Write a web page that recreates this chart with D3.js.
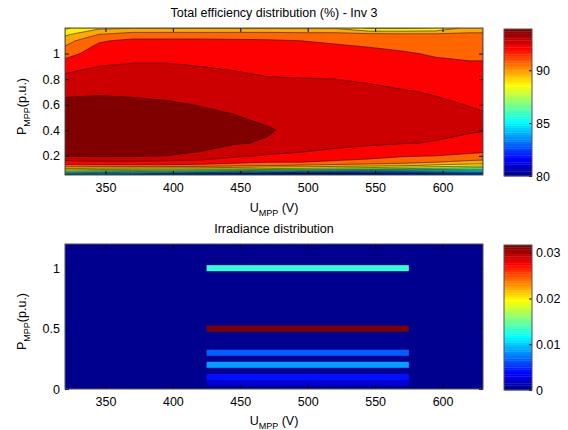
<!DOCTYPE html>
<html lang="en">
<head>
<meta charset="UTF-8">
<title>Total efficiency and irradiance distribution</title>
<script src="https://d3js.org/d3.v7.min.js"></script>
<style>
  body { margin: 0; background: #fff; }
  svg text { font-family: "Liberation Sans", Arial, Helvetica, sans-serif; fill: #000; }
</style>
</head>
<body>
<svg id="chart" width="568" height="430"></svg>
<script>
// ---- data ----
const uTicks = [350, 400, 450, 500, 550, 600];
const pTicksTop = [0.2, 0.4, 0.6, 0.8, 1];
const pTicksBottom = [0, 0.5, 1];
const effTicks = [80, 85, 90];
const irrTicks = [0, 0.01, 0.02, 0.03];

// efficiency (%) grid: one column per U, rows follow pGrid
const uGrid = [320, 345, 370, 395, 420, 445, 470, 495, 520, 545, 570, 595, 620, 630];
const pGrid = [0.05, 0.075, 0.1, 0.125, 0.15, 0.2, 0.3, 0.4, 0.5, 0.6, 0.7, 0.8, 0.9, 1.0, 1.1, 1.15, 1.2];
const effByU = [
  [82.5, 86.5, 89.0, 90.8, 91.6, 93.1, 93.4, 93.5, 93.4, 93.2, 92.85, 92.3, 91.6, 90.6, 89.6, 88.8, 87.8],
  [82.0, 86.0, 88.8, 90.8, 91.8, 93.2, 93.5, 93.6, 93.5, 93.25, 92.9, 92.45, 92.0, 91.5, 90.9, 90.0, 88.8],
  [81.5, 85.8, 88.7, 90.8, 91.8, 93.15, 93.5, 93.6, 93.5, 93.2, 92.85, 92.5, 92.1, 91.7, 91.2, 90.5, 88.9],
  [81.0, 85.5, 88.6, 90.8, 91.7, 93.0, 93.4, 93.5, 93.4, 93.1, 92.8, 92.45, 92.1, 91.7, 91.2, 90.5, 88.9],
  [80.5, 85.2, 88.5, 90.7, 91.6, 92.85, 93.3, 93.35, 93.2, 92.97, 92.7, 92.4, 92.0, 91.65, 91.2, 90.5, 88.9],
  [80.0, 84.8, 88.2, 90.4, 91.3, 92.2, 93.1, 93.25, 93.07, 92.8, 92.5, 92.2, 91.9, 91.6, 91.15, 90.5, 88.9],
  [79.5, 84.5, 88.0, 90.1, 91.0, 91.9, 92.9, 93.1, 92.8, 92.6, 92.35, 92.05, 91.8, 91.5, 91.1, 90.5, 88.9],
  [79.0, 84.0, 87.8, 89.9, 91.0, 91.8, 92.5, 92.7, 92.6, 92.4, 92.2, 92.03, 91.7, 91.35, 91.0, 90.4, 88.9],
  [79.0, 83.8, 87.5, 89.7, 90.8, 91.6, 92.3, 92.55, 92.5, 92.35, 92.15, 92.0, 91.65, 91.3, 90.9, 90.4, 88.9],
  [79.5, 83.5, 87.3, 89.5, 90.6, 91.4, 92.15, 92.4, 92.4, 92.3, 92.1, 91.95, 91.6, 91.2, 90.8, 90.3, 87.8],
  [80.0, 83.8, 87.0, 89.2, 90.4, 91.1, 92.05, 92.3, 92.3, 92.2, 92.05, 91.8, 91.4, 91.1, 90.6, 90.2, 87.8],
  [80.5, 84.0, 86.8, 88.8, 90.0, 91.0, 91.95, 92.2, 92.2, 92.1, 91.95, 91.6, 91.25, 90.9, 90.5, 90.2, 88.0],
  [81.0, 84.2, 86.5, 88.5, 89.7, 90.85, 91.7, 92.1, 92.1, 91.98, 91.7, 91.4, 91.15, 90.8, 90.5, 90.2, 89.4],
  [81.0, 84.3, 86.4, 88.4, 89.6, 90.8, 91.6, 92.05, 92.05, 91.95, 91.7, 91.4, 91.15, 90.8, 90.5, 90.2, 89.4]
];
const effLevels = [80, 81, 82, 83, 84, 85, 86, 87, 88, 89, 90, 91, 92, 93];
const effRange = [80, 93.9];

// irradiance distribution (weights per cell)
const irrP = [0.05, 0.1, 0.2, 0.3, 0.5, 1.0];
const irrValue = [0.0020, 0.0040, 0.0086, 0.0066, 0.0317, 0.0132];
const irrU = [425, 575];
const irrRange = [0, 0.0317];

// ---- layout ----
const svg = d3.select("#chart");
const plotX = [65, 483];
const topY = [28, 175];
const botY = [244, 389];
const cbX = [504, 532];
const cellHalf = 0.025;
const fs = 12.5;

// MATLAB-like jet colormap
function jet(t) {
  const c = v => Math.max(0, Math.min(1, v));
  return d3.rgb(255 * c(1.5 - Math.abs(4 * t - 3)),
                255 * c(1.5 - Math.abs(4 * t - 2)),
                255 * c(1.5 - Math.abs(4 * t - 1))).formatHex();
}
const jet64 = d3.range(64).map(i => jet((i + 1) / 64));

const x = d3.scaleLinear().domain([320, 630]).range(plotX);
const yTop = d3.scaleLinear().domain([0.05, 1.2]).range([topY[1], topY[0]]);
const yBot = d3.scaleLinear().domain([0, 1.2]).range([botY[1], botY[0]]);

const defs = svg.append("defs");
defs.append("clipPath").attr("id", "clipTop").append("rect")
  .attr("x", plotX[0]).attr("y", topY[0]).attr("width", plotX[1] - plotX[0]).attr("height", topY[1] - topY[0]);
defs.append("clipPath").attr("id", "clipBot").append("rect")
  .attr("x", plotX[0]).attr("y", botY[0]).attr("width", plotX[1] - plotX[0]).attr("height", botY[1] - botY[0]);

// ---- top: filled contours ----
const nx = uGrid.length, ny = pGrid.length;
const values = [];
for (let j = 0; j < ny; j++) for (let i = 0; i < nx; i++) values.push(effByU[i][j]);

const contours = d3.contours().size([nx, ny]).thresholds(effLevels)(values);
const uAt = d3.scaleLinear().domain(d3.range(nx)).range(uGrid).clamp(true);
const pAt = d3.scaleLinear().domain(d3.range(ny)).range(pGrid).clamp(true);
const proj = d3.geoTransform({
  point(cx, cy) { this.stream.point(x(uAt(cx - 0.5)), yTop(pAt(cy - 0.5))); }
});
const path = d3.geoPath(proj);
// position of each fill level along the jet map, as it shows in the picture
const effT = d3.scaleLinear().domain([80, 89, 90, 91, 92, 93]).range([0.06, 0.71, 0.775, 0.875, 0.925, 1]).clamp(true);
const effFill = v => jet(effT(v));

const gTop = svg.append("g").attr("clip-path", "url(#clipTop)");
gTop.append("rect")
  .attr("x", plotX[0]).attr("y", topY[0]).attr("width", plotX[1] - plotX[0]).attr("height", topY[1] - topY[0])
  .attr("fill", jet64[0]);
gTop.selectAll("path")
  .data(contours)
  .join("path")
  .attr("d", path)
  .attr("fill", d => effFill(d.value))
  .attr("stroke", "#000")
  .attr("stroke-width", 0.5);

// ---- bottom: irradiance cells ----
const irrColor = d3.scaleQuantize().domain(irrRange).range(jet64);
const gBot = svg.append("g").attr("clip-path", "url(#clipBot)");
gBot.append("rect")
  .attr("x", plotX[0]).attr("y", botY[0]).attr("width", plotX[1] - plotX[0]).attr("height", botY[1] - botY[0])
  .attr("fill", jet64[0]);
gBot.selectAll("rect.cell")
  .data(irrP.map((p, i) => ({ p, v: irrValue[i] })))
  .join("rect")
  .attr("class", "cell")
  .attr("x", x(irrU[0]))
  .attr("width", x(irrU[1]) - x(irrU[0]))
  .attr("y", d => yBot(d.p + cellHalf))
  .attr("height", d => yBot(d.p - cellHalf) - yBot(d.p + cellHalf))
  .attr("fill", d => irrColor(d.v));

// ---- axes ----
function frame(yr, yScale, yTicks) {
  const g = svg.append("g");
  g.append("g").attr("transform", `translate(0,${yr[1]})`)
    .call(d3.axisBottom(x).tickValues(uTicks).tickSizeInner(-4).tickSizeOuter(0).tickPadding(8));
  g.append("g").attr("transform", `translate(0,${yr[0]})`)
    .call(d3.axisTop(x).tickValues(uTicks).tickSizeInner(-4).tickSizeOuter(0).tickFormat(""));
  g.append("g").attr("transform", `translate(${plotX[0]},0)`)
    .call(d3.axisLeft(yScale).tickValues(yTicks).tickSizeInner(-4).tickSizeOuter(0).tickPadding(5).tickFormat(d3.format("~g")));
  g.append("g").attr("transform", `translate(${plotX[1]},0)`)
    .call(d3.axisRight(yScale).tickValues(yTicks).tickSizeInner(-4).tickSizeOuter(0).tickFormat(""));
  g.selectAll(".domain").remove();
  g.selectAll(".tick line").attr("stroke", "#000");
  g.selectAll("g").attr("font-family", null).attr("font-size", fs);
  g.append("rect")
    .attr("x", plotX[0]).attr("y", yr[0]).attr("width", plotX[1] - plotX[0]).attr("height", yr[1] - yr[0])
    .attr("fill", "none").attr("stroke", "#555").attr("stroke-width", 1);
}
frame(topY, yTop, pTicksTop);
frame(botY, yBot, pTicksBottom);

// ---- colorbars ----
function colorbar(yr, range, ticks, fmt) {
  const s = d3.scaleLinear().domain(range).range([yr[1], yr[0]]);
  const g = svg.append("g");
  const step = (range[1] - range[0]) / 64;
  g.selectAll("rect.band")
    .data(jet64)
    .join("rect")
    .attr("class", "band")
    .attr("x", cbX[0]).attr("width", cbX[1] - cbX[0])
    .attr("y", (d, i) => s(range[0] + (i + 1) * step))
    .attr("height", (d, i) => s(range[0] + i * step) - s(range[0] + (i + 1) * step) + 0.3)
    .attr("fill", d => d);
  const ax = g.append("g").attr("transform", `translate(${cbX[1]},0)`)
    .call(d3.axisRight(s).tickValues(ticks).tickSizeInner(-3).tickSizeOuter(0).tickPadding(4).tickFormat(fmt));
  ax.attr("font-family", null).attr("font-size", fs);
  ax.select(".domain").remove();
  ax.selectAll(".tick line").attr("stroke", "#000");
  g.append("rect")
    .attr("x", cbX[0]).attr("y", yr[0]).attr("width", cbX[1] - cbX[0]).attr("height", yr[1] - yr[0])
    .attr("fill", "none").attr("stroke", "#555").attr("stroke-width", 1);
}
colorbar([29, 176], effRange, effTicks, d3.format("d"));
colorbar([245, 390], irrRange, irrTicks, d3.format("~g"));

// ---- titles and labels ----
const cx = (plotX[0] + plotX[1]) / 2;
svg.append("text").attr("x", cx).attr("y", 17).attr("text-anchor", "middle").attr("font-size", fs)
  .text("Total efficiency distribution (%) - Inv 3");
svg.append("text").attr("x", cx).attr("y", 233).attr("text-anchor", "middle").attr("font-size", fs)
  .text("Irradiance distribution");

function subLabel(sel, main, sub, tail) {
  sel.attr("font-size", fs);
  sel.append("tspan").text(main);
  sel.append("tspan").attr("font-size", 9).attr("dy", 4).text(sub);
  sel.append("tspan").attr("dy", -4).text(tail);
}
svg.append("text").attr("x", cx).attr("y", 212).attr("text-anchor", "middle")
  .call(subLabel, "U", "MPP", " (V)");
svg.append("text").attr("x", cx).attr("y", 425).attr("text-anchor", "middle")
  .call(subLabel, "U", "MPP", " (V)");
svg.append("text").attr("text-anchor", "middle")
  .attr("transform", `translate(26,${(topY[0] + topY[1]) / 2 + 5}) rotate(-90)`)
  .call(subLabel, "P", "MPP", "(p.u.)");
svg.append("text").attr("text-anchor", "middle")
  .attr("transform", `translate(26,${(botY[0] + botY[1]) / 2 + 5}) rotate(-90)`)
  .call(subLabel, "P", "MPP", "(p.u.)");
</script>
</body>
</html>
